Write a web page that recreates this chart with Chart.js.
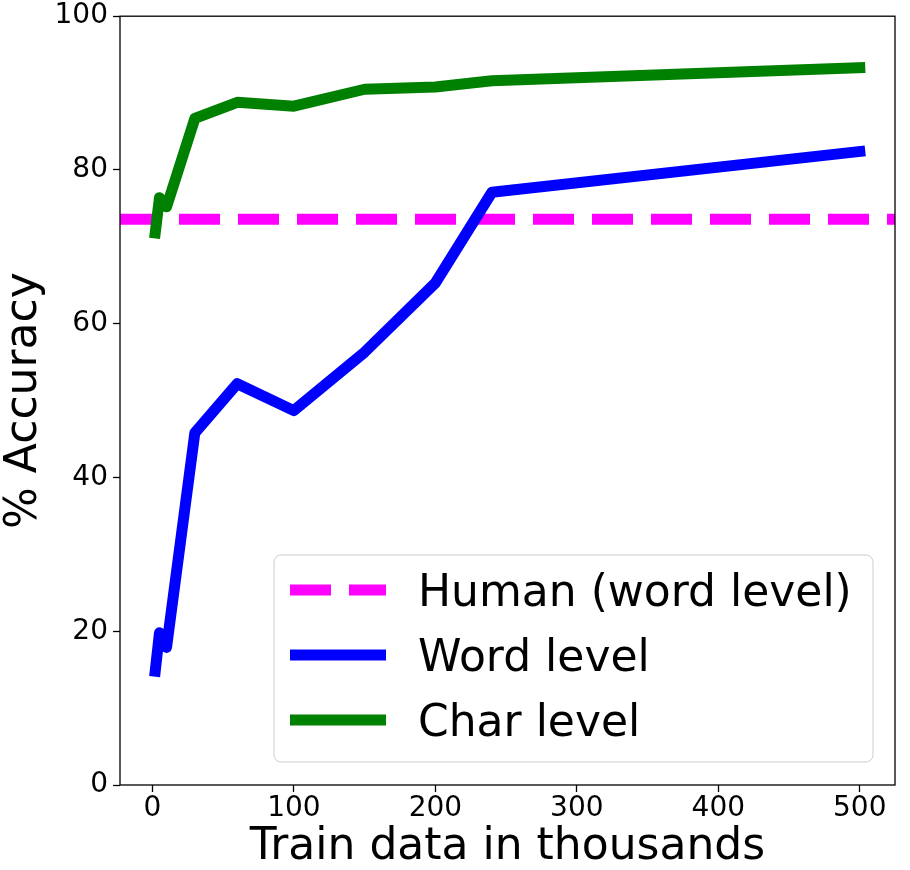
<!DOCTYPE html>
<html>
<head>
<meta charset="utf-8">
<script src="https://cdn.jsdelivr.net/npm/chart.js@4.4.1/dist/chart.umd.min.js"></script>
<style>
html,body{margin:0;padding:0;background:#fff;}
#wrap{width:910px;height:870px;}
</style>
</head>
<body>
<div id="wrap"><canvas id="c" width="910" height="870"></canvas></div>
<script>
// ---- data ----
const trainSizes = [2, 5, 10, 30, 60, 100, 150, 200, 240, 500];
const wordLevel  = [14.8, 19.8, 17.9, 45.8, 52.2, 48.7, 56.3, 65.3, 77.1, 82.4];
const charLevel  = [71.8, 76.4, 75.2, 86.7, 88.8, 88.3, 90.5, 90.8, 91.6, 93.3];
const humanLevel = 73.6;
const xTicks = [0, 100, 200, 300, 400, 500];
const yTicks = [0, 20, 40, 60, 80, 100];
const seriesLabels = ['Human (word level)', 'Word level', 'Char level'];
const xLabel = 'Train data in thousands';
const yLabel = '% Accuracy';

const X_MIN = -22.9, X_MAX = 524.9;
const FONT = "'DejaVu Sans', sans-serif";

const toPts = (xs, ys) => xs.map((x, i) => ({x: x, y: ys[i]}));

const framePlugin = {
  id: 'frame',
  afterDatasetsDraw(chart) {
    const {ctx, chartArea: a} = chart;
    ctx.save();
    ctx.strokeStyle = '#000';
    ctx.lineWidth = 1.3;
    ctx.strokeRect(a.left, a.top, a.right - a.left, a.bottom - a.top);
    ctx.restore();
  }
};

const legendPlugin = {
  id: 'boxLegend',
  afterDraw(chart) {
    const ctx = chart.ctx;
    const bx = 274, by = 555, bw = 599, bh = 207, r = 7;
    ctx.save();
    ctx.beginPath();
    ctx.moveTo(bx + r, by);
    ctx.arcTo(bx + bw, by, bx + bw, by + bh, r);
    ctx.arcTo(bx + bw, by + bh, bx, by + bh, r);
    ctx.arcTo(bx, by + bh, bx, by, r);
    ctx.arcTo(bx, by, bx + bw, by, r);
    ctx.closePath();
    ctx.fillStyle = 'rgba(255,255,255,0.8)';
    ctx.fill();
    ctx.strokeStyle = '#cccccc';
    ctx.lineWidth = 1;
    ctx.stroke();
    const rows = [590, 655, 720];
    chart.data.datasets.forEach((ds, i) => {
      const y = rows[i];
      ctx.beginPath();
      ctx.setLineDash(ds.borderDash || []);
      ctx.lineCap = 'butt';
      ctx.strokeStyle = ds.borderColor;
      ctx.lineWidth = ds.borderWidth;
      ctx.moveTo(290, y);
      ctx.lineTo(386, y);
      ctx.stroke();
      ctx.setLineDash([]);
      ctx.fillStyle = '#000';
      ctx.font = '44px ' + FONT;
      ctx.textBaseline = 'alphabetic';
      ctx.textAlign = 'left';
      ctx.fillText(ds.label, 418, y + 16);
    });
    ctx.restore();
  }
};

new Chart(document.getElementById('c'), {
  type: 'line',
  data: {
    datasets: [
      {
        label: seriesLabels[0],
        data: [{x: X_MIN, y: humanLevel}, {x: X_MAX, y: humanLevel}],
        borderColor: '#ff00ff',
        borderWidth: 11,
        borderDash: [41, 18],
        borderCapStyle: 'butt',
        pointRadius: 0,
        order: 3
      },
      {
        label: seriesLabels[1],
        data: toPts(trainSizes, wordLevel),
        borderColor: '#0000ff',
        borderWidth: 11,
        borderCapStyle: 'square',
        borderJoinStyle: 'round',
        pointRadius: 0,
        order: 2
      },
      {
        label: seriesLabels[2],
        data: toPts(trainSizes, charLevel),
        borderColor: '#008000',
        borderWidth: 11,
        borderCapStyle: 'square',
        borderJoinStyle: 'round',
        pointRadius: 0,
        order: 1
      }
    ]
  },
  options: {
    responsive: false,
    animation: false,
    layout: {padding: {top: 15, right: 15, left: 0, bottom: 0}},
    plugins: {legend: {display: false}, tooltip: {enabled: false}},
    scales: {
      x: {
        type: 'linear',
        min: X_MIN,
        max: X_MAX,
        afterBuildTicks: (s) => { s.ticks = xTicks.map(v => ({value: v})); },
        afterFit: (s) => { s.height = 85; },
        grid: {display: true, drawOnChartArea: false, drawTicks: true, tickLength: 7, tickWidth: 1.3, tickColor: '#000'},
        border: {display: false},
        ticks: {color: '#000', font: {family: FONT, size: 28, lineHeight: 1.0}, padding: 3, maxRotation: 0},
        title: {display: true, text: xLabel, color: '#000', font: {family: FONT, size: 44, lineHeight: 1.0}, padding: 0}
      },
      y: {
        type: 'linear',
        min: 0,
        max: 100,
        afterBuildTicks: (s) => { s.ticks = yTicks.map(v => ({value: v})); },
        afterFit: (s) => { s.width = 120; },
        grid: {display: true, drawOnChartArea: false, drawTicks: true, tickLength: 7, tickWidth: 1.3, tickColor: '#000'},
        border: {display: false},
        ticks: {color: '#000', font: {family: FONT, size: 28, lineHeight: 0.8}, padding: 5},
        title: {display: true, text: yLabel, color: '#000', font: {family: FONT, size: 44, lineHeight: 1.1}, padding: 0}
      }
    }
  },
  plugins: [framePlugin, legendPlugin]
});
</script>
</body>
</html>
